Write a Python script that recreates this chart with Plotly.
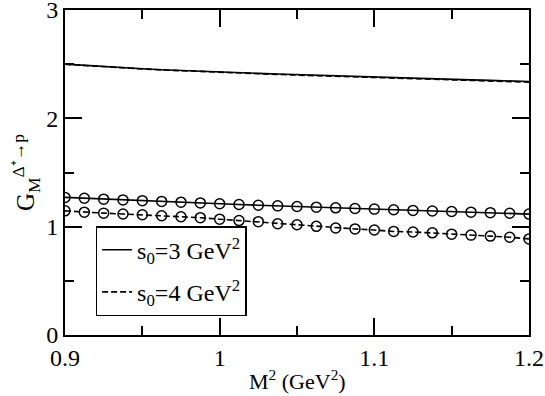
import plotly.graph_objects as go

# M^2 (GeV^2)
m2 = [0.9, 0.9125, 0.925, 0.9375, 0.95, 0.9625, 0.975, 0.9875, 1.0, 1.0125,
      1.025, 1.0375, 1.05, 1.0625, 1.075, 1.0875, 1.1, 1.1125, 1.125, 1.1375,
      1.15, 1.1625, 1.175, 1.1875, 1.2]

# upper curves (no markers)
gm_s3 = [2.500, 2.488, 2.477, 2.467, 2.458, 2.449, 2.441, 2.434, 2.427, 2.421,
         2.415, 2.409, 2.403, 2.397, 2.392, 2.386, 2.381, 2.376, 2.370, 2.365,
         2.360, 2.355, 2.350, 2.345, 2.340]
gm_s4 = [2.499, 2.487, 2.476, 2.465, 2.456, 2.447, 2.439, 2.431, 2.424, 2.418,
         2.411, 2.405, 2.399, 2.393, 2.387, 2.381, 2.376, 2.370, 2.365, 2.359,
         2.354, 2.349, 2.344, 2.339, 2.334]

# lower curves (open circles)
gm_c3 = [1.270, 1.262, 1.254, 1.247, 1.240, 1.233, 1.226, 1.219, 1.212, 1.205,
         1.198, 1.192, 1.186, 1.180, 1.174, 1.168, 1.162, 1.156, 1.150, 1.145,
         1.140, 1.134, 1.129, 1.124, 1.116]
gm_c4 = [1.146, 1.134, 1.125, 1.117, 1.110, 1.101, 1.092, 1.083, 1.069, 1.056,
         1.046, 1.027, 1.018, 1.003, 0.988, 0.979, 0.969, 0.956, 0.951, 0.943,
         0.931, 0.922, 0.913, 0.902, 0.887]

FONT = "Liberation Serif"
fig = go.Figure()

fig.add_trace(go.Scatter(x=m2, y=gm_s3, mode="lines",
                         line=dict(color="black", width=1.6),
                         legendgroup="s3",
                         name="s<sub>0</sub>=3 GeV<sup>2</sup>"))
fig.add_trace(go.Scatter(x=m2, y=gm_s4, mode="lines",
                         line=dict(color="black", width=1.6, dash="6px,3px"),
                         legendgroup="s4",
                         name="s<sub>0</sub>=4 GeV<sup>2</sup>"))
fig.add_trace(go.Scatter(x=m2, y=gm_c3, mode="lines+markers",
                         line=dict(color="black", width=1.6),
                         marker=dict(symbol="circle-open", size=10,
                                     color="black", line=dict(width=1.5)),
                         legendgroup="s3", showlegend=False))
fig.add_trace(go.Scatter(x=m2, y=gm_c4, mode="lines+markers",
                         line=dict(color="black", width=1.6, dash="6px,3px"),
                         marker=dict(symbol="circle-open", size=10,
                                     color="black", line=dict(width=1.5)),
                         legendgroup="s4", showlegend=False))

axis_common = dict(
    showgrid=False, zeroline=False, showline=True, linecolor="black",
    linewidth=2, mirror="allticks", ticks="inside", ticklen=17, tickwidth=1.5,
    tickcolor="black", tickfont=dict(family=FONT, size=24, color="black"),
    ticklabeloverflow="allow", automargin=False,
)

fig.update_xaxes(
    range=[0.9, 1.2], tickvals=[0.9, 1.0, 1.1, 1.2],
    ticktext=["0.9", "1", "1.1", "1.2"],
    minor=dict(ticks="inside", ticklen=9, tickwidth=1.5, tickcolor="black",
               dtick=0.05, tick0=0.9, showgrid=False),
    **axis_common)
fig.update_yaxes(
    range=[0, 3], tickvals=[0, 1, 2, 3],
    minor=dict(ticks="inside", ticklen=9, tickwidth=1.5, tickcolor="black",
               dtick=0.5, tick0=0, showgrid=False),
    title=dict(text="G<sub>M</sub><sup>Δ⁺→p</sup>",
               font=dict(family=FONT, size=25, color="black"), standoff=4),
    **axis_common)

fig.add_annotation(text="M<sup>2</sup> (GeV<sup>2</sup>)", xref="paper",
                   yref="paper", x=0.5, y=-0.138, xanchor="center",
                   yanchor="middle", showarrow=False,
                   font=dict(family=FONT, size=22, color="black"))

fig.update_layout(
    width=545, height=396,
    margin=dict(l=65, r=16, t=10, b=61, autoexpand=False),
    paper_bgcolor="white", plot_bgcolor="white",
    font=dict(family=FONT, color="black"),
    legend=dict(x=0.066, y=0.335, xanchor="left", yanchor="top",
                bgcolor="white", bordercolor="black", borderwidth=1.5,
                font=dict(family=FONT, size=24, color="black"),
                itemwidth=30, traceorder="grouped", tracegroupgap=8),
)

fig.write_html("out.html",
               config={"displayModeBar": False},
               post_script="document.body.style.margin='0';"
                           "document.body.style.overflow='hidden';")
